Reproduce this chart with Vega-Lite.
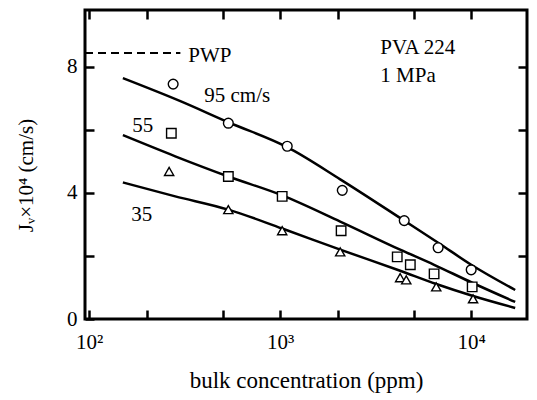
{
  "$schema": "https://vega.github.io/schema/vega-lite/v6.json",
  "width": 442,
  "height": 309,
  "autosize": {"type": "none"},
  "padding": {"left": 85, "top": 10, "right": 10, "bottom": 81},
  "background": "white",
  "config": {
    "view": {"stroke": "black", "strokeWidth": 3},
    "font": "Liberation Serif",
    "axis": {
      "domain": false,
      "grid": false,
      "tickColor": "black",
      "tickWidth": 2.5,
      "tickSize": -9,
      "labelColor": "black",
      "labelFont": "Liberation Serif",
      "labelFontSize": 21,
      "titleColor": "black",
      "titleFont": "Liberation Serif",
      "titleFontSize": 20,
      "titleFontWeight": "normal"
    }
  },
  "resolve": {"axis": {"x": "independent", "y": "independent"}},
  "datasets": {
    "curves": [
      {"series": "95", "conc": 150, "jv": 7.64},
      {"series": "95", "conc": 300, "jv": 6.91},
      {"series": "95", "conc": 535, "jv": 6.24},
      {"series": "95", "conc": 1088, "jv": 5.45},
      {"series": "95", "conc": 2062, "jv": 4.43},
      {"series": "95", "conc": 4460, "jv": 3.12},
      {"series": "95", "conc": 6713, "jv": 2.42},
      {"series": "95", "conc": 10000, "jv": 1.72},
      {"series": "95", "conc": 17000, "jv": 0.92},
      {"series": "55", "conc": 150, "jv": 5.83},
      {"series": "55", "conc": 282, "jv": 5.16},
      {"series": "55", "conc": 535, "jv": 4.52},
      {"series": "55", "conc": 1024, "jv": 3.92},
      {"series": "55", "conc": 2062, "jv": 3.09},
      {"series": "55", "conc": 4246, "jv": 2.2},
      {"series": "55", "conc": 6394, "jv": 1.72},
      {"series": "55", "conc": 10120, "jv": 1.15},
      {"series": "55", "conc": 17000, "jv": 0.54},
      {"series": "35", "conc": 150, "jv": 4.33},
      {"series": "35", "conc": 282, "jv": 3.89},
      {"series": "35", "conc": 535, "jv": 3.47},
      {"series": "35", "conc": 1024, "jv": 2.87},
      {"series": "35", "conc": 2062, "jv": 2.2},
      {"series": "35", "conc": 4246, "jv": 1.53},
      {"series": "35", "conc": 6561, "jv": 1.11},
      {"series": "35", "conc": 10230, "jv": 0.73},
      {"series": "35", "conc": 17000, "jv": 0.35}
    ],
    "points": [
      {"series": "95", "conc": 275, "jv": 7.45},
      {"series": "95", "conc": 535, "jv": 6.21},
      {"series": "95", "conc": 1088, "jv": 5.48},
      {"series": "95", "conc": 2113, "jv": 4.08},
      {"series": "95", "conc": 4460, "jv": 3.12},
      {"series": "95", "conc": 6713, "jv": 2.26},
      {"series": "95", "conc": 10000, "jv": 1.56},
      {"series": "55", "conc": 269, "jv": 5.89},
      {"series": "55", "conc": 535, "jv": 4.52},
      {"series": "55", "conc": 1024, "jv": 3.89},
      {"series": "55", "conc": 2084, "jv": 2.8},
      {"series": "55", "conc": 4100, "jv": 1.97},
      {"series": "55", "conc": 4800, "jv": 1.72},
      {"series": "55", "conc": 6394, "jv": 1.43},
      {"series": "55", "conc": 10120, "jv": 1.02},
      {"series": "35", "conc": 262, "jv": 4.68},
      {"series": "35", "conc": 535, "jv": 3.47},
      {"series": "35", "conc": 1024, "jv": 2.8},
      {"series": "35", "conc": 2061, "jv": 2.13},
      {"series": "35", "conc": 4246, "jv": 1.31},
      {"series": "35", "conc": 4571, "jv": 1.24},
      {"series": "35", "conc": 6561, "jv": 1.02},
      {"series": "35", "conc": 10230, "jv": 0.64}
    ],
    "pwp": [
      {"conc": 95, "jv": 8.44},
      {"conc": 300, "jv": 8.44}
    ],
    "notes": [
      {"text": "PWP", "conc": 330, "jv": 8.15},
      {"text": "PVA 224", "conc": 3343, "jv": 8.41},
      {"text": "1 MPa", "conc": 3343, "jv": 7.52},
      {"text": "95 cm/s", "conc": 400, "jv": 6.88},
      {"text": "55", "conc": 168, "jv": 5.92},
      {"text": "35", "conc": 166, "jv": 3.12}
    ]
  },
  "layer": [
    {
      "data": {"name": "curves"},
      "mark": {"type": "line", "color": "black", "strokeWidth": 2.5, "interpolate": "monotone"},
      "encoding": {
        "x": {
          "field": "conc", "type": "quantitative",
          "scale": {"type": "log", "domain": [95, 19600], "nice": false},
          "axis": {
            "orient": "bottom",
            "values": [100, 200, 500, 1000, 2000, 5000, 10000],
            "labelExpr": "datum.value == 100 ? '10²' : datum.value == 1000 ? '10³' : datum.value == 10000 ? '10⁴' : ''",
            "labelPadding": 21,
            "labelFlush": false,
            "title": "bulk concentration  (ppm)",
            "titleFontSize": 23,
            "titlePadding": 17
          }
        },
        "y": {
          "field": "jv", "type": "quantitative",
          "scale": {"domain": [0, 9.8], "nice": false},
          "axis": {
            "orient": "left",
            "values": [0, 2, 4, 6, 8],
            "labelExpr": "datum.value == 2 || datum.value == 6 ? '' : datum.label",
            "labelPadding": 17,
            "labelFlush": false,
            "title": "Jᵥ×10⁴  (cm/s)",
            "titleFontSize": 21,
            "titlePadding": 30,
            "titleY": 165
          }
        },
        "detail": {"field": "series"}
      }
    },
    {
      "data": {"name": "pwp"},
      "mark": {"type": "line", "color": "black", "strokeWidth": 2, "strokeDash": [8, 5]},
      "encoding": {
        "x": {"field": "conc", "type": "quantitative", "axis": null},
        "y": {"field": "jv", "type": "quantitative", "axis": null}
      }
    },
    {
      "data": {"name": "points"},
      "mark": {"type": "point", "filled": false, "fill": "white", "fillOpacity": 1, "stroke": "black", "strokeWidth": 1.4, "opacity": 1},
      "encoding": {
        "x": {
          "field": "conc", "type": "quantitative",
          "axis": {"orient": "top", "values": [100, 200, 500, 1000, 2000, 5000, 10000], "labels": false, "title": null}
        },
        "y": {
          "field": "jv", "type": "quantitative",
          "axis": {"orient": "right", "values": [2, 4, 6, 8], "labels": false, "title": null}
        },
        "shape": {
          "field": "series", "type": "nominal",
          "scale": {"domain": ["95", "55", "35"], "range": ["circle", "square", "triangle-up"]},
          "legend": null
        },
        "size": {
          "field": "series", "type": "nominal",
          "scale": {"domain": ["95", "55", "35"], "range": [95, 85, 150]},
          "legend": null
        }
      }
    },
    {
      "data": {"name": "notes"},
      "mark": {"type": "text", "align": "left", "baseline": "alphabetic", "font": "Liberation Serif", "fontSize": 21, "color": "black"},
      "encoding": {
        "x": {"field": "conc", "type": "quantitative", "axis": null},
        "y": {"field": "jv", "type": "quantitative", "axis": null},
        "text": {"field": "text"}
      }
    }
  ]
}
